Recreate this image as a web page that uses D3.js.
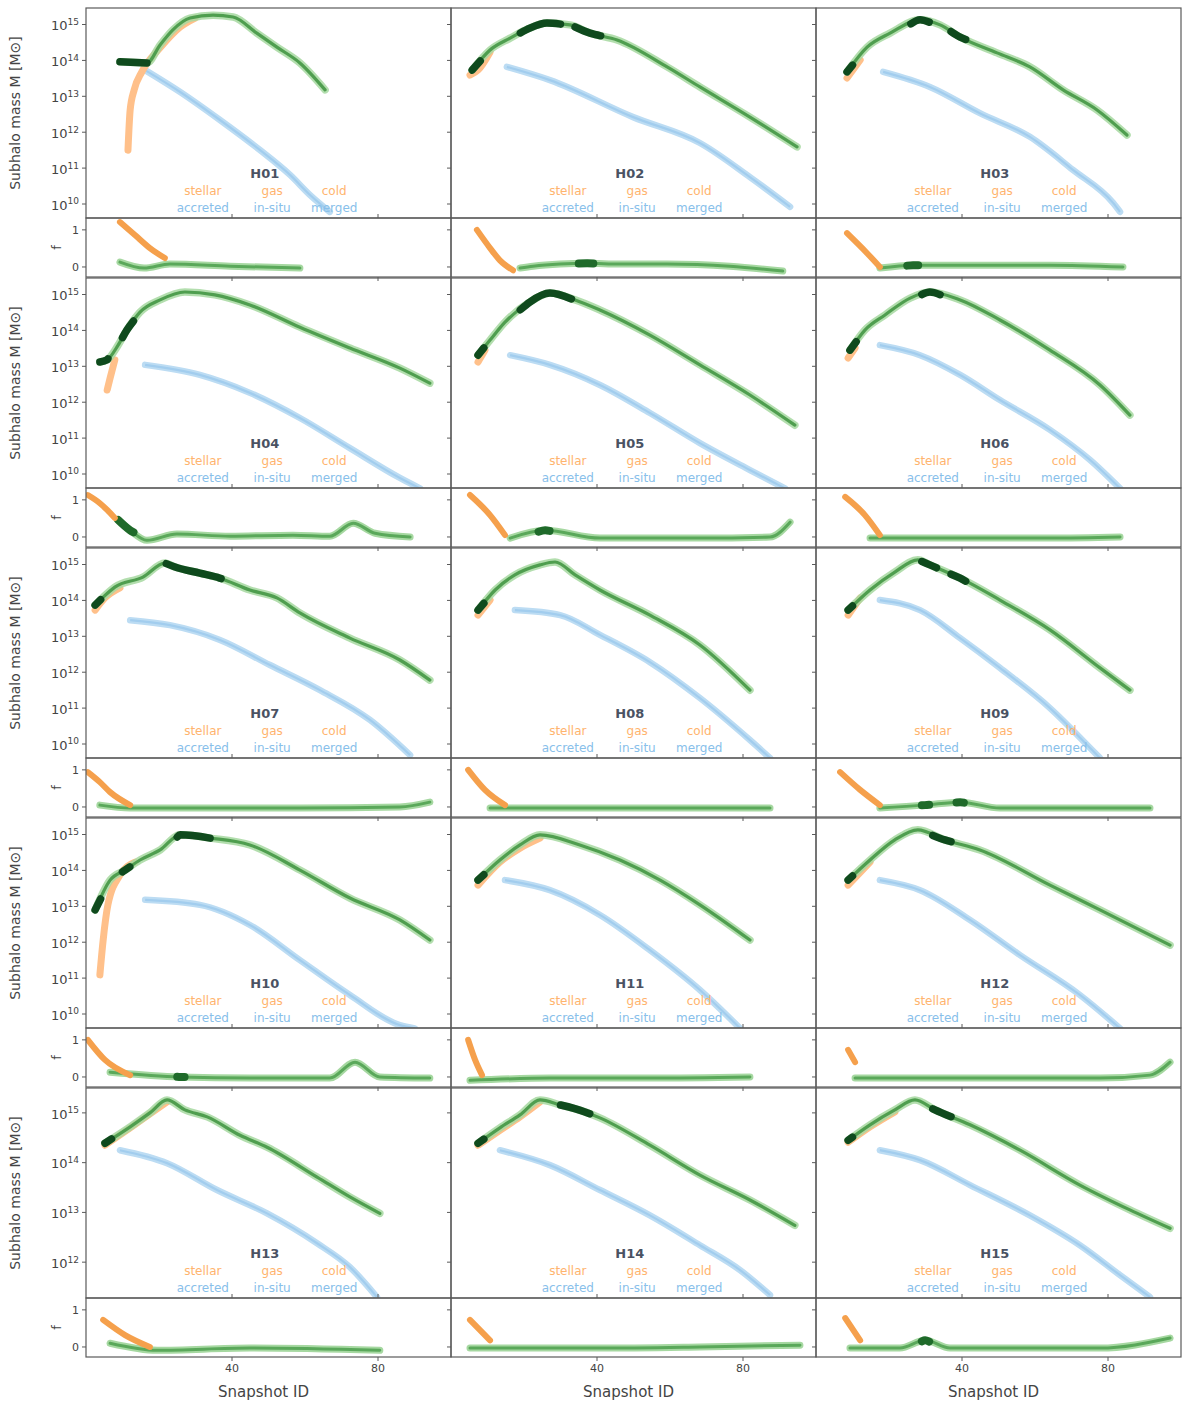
<!DOCTYPE html>
<html><head><meta charset="utf-8">
<script src="https://cdn.jsdelivr.net/npm/d3@7"></script>
<style>body{margin:0;background:#fff}svg{display:block}text{font-family:"DejaVu Sans",sans-serif}</style>
</head><body>
<svg id="c" width="1200" height="1416"></svg>
<script>
// ---------- data (x: snapshot, y: log10 mass, residual: fraction) ----------
const xDomain = [0, 100];
const xTicks = [40, 80];
const yTickRows = [[10,11,12,13,14,15],[10,11,12,13,14,15],[10,11,12,13,14,15],[10,11,12,13,14,15],[12,13,14,15]];
const yDomainRows = [[9.61,15.46],[9.61,15.46],[9.61,15.46],[9.61,15.46],[11.28,15.5]];
const resDomain = [-0.27, 1.32];
const resTicks = [0, 1];

const greenX = [
 [9.3,16.7,20.3,23.8,28.5,34.8,40.3,46.8,52.3,58.6,65.5],
 [5.8,10.7,16.2,21.6,26.3,32.6,38.1,45.5,59.2,68.2,81.9,94.8],
 [8.5,14.0,20.3,28.5,34.0,39.5,49.6,58.6,67.7,77.0,85.2],
 [3.8,5.8,8.8,11.2,14.8,20.3,27.1,35.3,44.9,58.6,72.3,86.0,94.2],
 [7.4,10.7,14.8,21.6,27.1,34.0,40.8,54.5,68.2,81.9,94.2],
 [9.3,13.4,18.9,25.8,31.2,39.5,50.4,64.1,77.8,86.0],
 [2.5,4.7,7.9,15.6,21.6,24.4,31.2,36.7,44.9,52.3,58.6,72.3,86.0,94.2],
 [7.4,12.1,17.5,24.4,28.5,34.0,40.8,54.5,68.2,81.9],
 [8.8,14.8,21.6,27.9,31.2,39.5,50.4,64.1,77.8,86.0],
 [2.5,6.6,10.7,14.8,20.3,25.8,34.0,44.9,58.6,72.3,86.0,94.2],
 [7.4,13.4,18.9,24.4,35.3,46.3,57.3,68.2,81.9],
 [8.8,14.8,21.6,27.9,35.3,44.9,64.1,77.8,97.0],
 [5.2,12.1,17.5,22.2,27.1,33.2,42.2,49.6,63.3,72.3,80.5],
 [7.4,13.4,18.9,24.4,29.9,36.7,40.8,54.5,68.2,81.9,94.2],
 [8.8,14.8,21.6,27.1,32.6,42.2,55.9,72.3,86.0,97.0]
];
const greenY = [
 [13.96,13.93,14.43,14.85,15.18,15.26,15.21,14.76,14.37,13.93,13.18],
 [13.73,14.29,14.62,14.90,15.04,14.99,14.76,14.57,13.82,13.26,12.42,11.59],
 [13.68,14.37,14.76,15.13,14.99,14.65,14.21,13.82,13.18,12.62,11.92],
 [13.12,13.18,13.59,14.01,14.51,14.85,15.07,14.99,14.71,14.09,13.51,12.95,12.53],
 [13.31,13.73,14.23,14.79,15.04,14.85,14.57,13.87,13.04,12.20,11.36],
 [13.45,14.01,14.43,14.90,15.07,14.85,14.29,13.45,12.48,11.64],
 [13.87,14.09,14.37,14.65,15.04,14.93,14.76,14.62,14.29,14.07,13.65,12.95,12.34,11.78],
 [13.73,14.29,14.71,14.99,15.07,14.71,14.29,13.59,12.76,11.50],
 [13.73,14.29,14.79,15.13,14.99,14.62,14.01,13.18,12.12,11.50],
 [12.90,13.73,14.01,14.29,14.57,14.99,14.90,14.71,14.01,13.23,12.62,12.06],
 [13.73,14.29,14.71,14.99,14.71,14.29,13.73,13.04,12.06],
 [13.73,14.29,14.85,15.13,14.85,14.57,13.59,12.90,11.92],
 [14.39,14.72,15.0,15.26,15.06,14.92,14.55,14.31,13.71,13.31,12.98],
 [14.39,14.70,14.96,15.26,15.16,15.02,14.90,14.35,13.75,13.25,12.74],
 [14.45,14.76,15.06,15.26,15.06,14.76,14.25,13.55,13.05,12.68]
];
const darkRanges = [
 [[9.3,16.7]], [[5.8,8],[19,30],[34,41]], [[8.5,10],[26,31],[37,41]],
 [[3.8,6],[10,13]], [[7.4,9],[19,33]], [[9.3,11],[29,34]],
 [[2.5,4],[22,37]], [[7.4,9]], [[8.8,10],[29,33],[37,41]],
 [[2.5,4],[10,12],[25,34]], [[7.4,9]], [[8.8,10],[32,37]],
 [[5.2,7]], [[7.4,9],[30,38]], [[8.8,10],[32,37]]
];
const blueX = [
 [16.2,25.8,36.7,47.7,55.9,61.4,66.8],
 [15.3,27.1,49.9,68.2,81.9,92.9],
 [18.4,31.2,44.9,58.6,70.4,81.4,83.3],
 [16.2,31.2,44.9,58.6,72.3,86.0,91.5],
 [16.2,27.1,40.8,54.5,68.2,81.9,91.5],
 [17.5,28.5,39.5,50.4,64.1,75.1,83.3],
 [12.1,23.0,36.7,50.4,64.1,77.8,88.8],
 [17.5,29.9,40.8,54.5,68.2,81.9,87.4],
 [17.5,28.5,39.5,50.4,64.1,75.1,77.8],
 [16.2,31.2,44.9,58.6,72.3,86.0,90.1],
 [14.8,27.1,40.8,54.5,68.2,79.2],
 [17.5,28.5,42.2,55.9,72.3,83.3],
 [9.3,22.2,35.9,49.6,63.3,72.3,79.7],
 [13.4,27.1,40.8,54.5,68.2,79.2,87.4],
 [17.5,28.5,42.2,58.6,72.3,83.3,91.5]
];
const blueY = [
 [13.73,13.12,12.34,11.50,10.81,10.25,9.78],
 [13.82,13.45,12.42,11.70,10.75,9.92],
 [13.68,13.26,12.53,11.87,10.95,10.03,9.78],
 [13.04,12.76,12.26,11.56,10.72,9.89,9.6],
 [13.31,13.04,12.48,11.70,10.86,10.11,9.6],
 [13.59,13.31,12.76,12.06,11.23,10.39,9.6],
 [13.45,13.31,12.90,12.20,11.50,10.67,9.69],
 [13.73,13.59,13.04,12.28,11.28,10.11,9.61],
 [14.01,13.73,12.95,12.12,11.00,9.89,9.61],
 [13.18,13.04,12.48,11.50,10.53,9.69,9.6],
 [13.73,13.45,12.76,11.78,10.67,9.6],
 [13.73,13.45,12.62,11.64,10.53,9.6],
 [14.25,13.99,13.45,12.98,12.38,11.90,11.30],
 [14.25,13.95,13.45,12.94,12.34,11.84,11.34],
 [14.25,14.05,13.55,12.94,12.34,11.74,11.3]
];
const orangeX = [
 [11.5,12.1,13.2,15.3,20.3,25.8,29.9],[5.2,7.4,10.7],[8.5,12.1],
 [5.8,6.6,7.9],[7.4,9.3],[8.8,10.7],
 [2.5,5.2,9.3],[7.4,10.7],[8.8,12.1],
 [3.8,4.7,6.0,9.3,13.4],[7.4,13.4,18.9,24.4],[8.8,14.8],
 [5.2,12.1,17.5,22.2],[7.4,13.4,18.9,24.4],[8.8,14.8,21.6]
];
const orangeY = [
 [11.50,12.62,13.18,13.68,14.35,14.93,15.18],[13.59,13.73,14.23],[13.51,14.01],
 [12.34,12.67,13.18],[13.12,13.45],[13.23,13.51],
 [13.73,14.07,14.35],[13.59,14.01],[13.59,14.07],
 [11.09,12.06,13.04,13.87,14.23],[13.59,14.23,14.62,14.90],[13.59,14.23],
 [14.35,14.70,14.98,15.22],[14.35,14.65,14.92,15.22],[14.41,14.72,15.02]
];
const resOrangeX = [
 [9.3,13.4,17.5,21.6],[7.1,10.7,13.4,17.0],[8.5,14.0,17.5],
 [0.5,3.8,5.8,7.9],[5.2,10.7,14.8],[8.0,13.4,17.5],
 [0.5,3.8,6.6,12.1],[4.7,9.3,14.8],[6.6,12.1,17.5],
 [0.5,5.2,12.1],[4.7,6.6,8.5],[8.8,10.7],
 [4.7,10.7,17.5],[5.2,10.7],[8.0,12.1]
];
const resOrangeY = [
 [1.21,0.86,0.51,0.24],[1.0,0.51,0.18,-0.09],[0.91,0.37,0.0],
 [1.13,0.91,0.73,0.51],[1.13,0.59,0.05],[1.08,0.59,0.05],
 [0.94,0.67,0.40,0.05],[1.0,0.46,0.05],[0.94,0.46,0.05],
 [1.0,0.46,0.05],[1.0,0.46,0.05],[0.73,0.40],
 [0.73,0.32,0.0],[0.73,0.18],[0.78,0.18]
];
const resGreenX = [
 [9.3,15.9,23.0,39.5,58.6],
 [18.9,22.5,29.9,37.3,46.3,59.2,76.4,90.9],
 [17.5,26.6,36.7,50.4,64.1,84.1],
 [8.8,12.1,16.7,24.9,39.5,56.7,66.8,73.2,79.2,88.8],
 [16.2,25.8,40.8,68.2,87.4,92.9],
 [14.8,36.7,64.1,83.3],
 [3.8,12.1,31.2,58.6,86.0,94.2],
 [10.7,40.8,68.2,87.4],
 [17.5,29.9,39.5,50.4,91.5],
 [6.6,25.8,44.9,66.8,73.7,80.5,94.2],
 [5.2,27.1,54.5,81.9],
 [10.7,36.7,77.8,91.5,97.0],
 [6.6,19.5,44.9,80.5],
 [5.2,40.8,68.2,95.6],
 [9.3,23.0,29.9,36.7,77.8,97.0]
];
const resGreenY = [
 [0.13,-0.03,0.08,0.02,-0.03],
 [-0.03,0.02,0.08,0.10,0.08,0.08,0.02,-0.11],
 [-0.03,0.05,0.05,0.05,0.05,0.0],
 [0.46,0.18,-0.09,0.08,0.02,0.05,0.02,0.37,0.10,0.0],
 [-0.03,0.18,-0.03,-0.03,0.0,0.40],
 [-0.03,-0.03,-0.03,0.0],
 [0.05,-0.03,-0.03,-0.03,0.0,0.13],
 [-0.03,-0.03,-0.03,-0.03],
 [-0.03,0.05,0.13,-0.03,-0.03],
 [0.13,0.0,-0.03,-0.03,0.40,0.0,-0.03],
 [-0.09,-0.03,-0.03,0.0],
 [-0.03,-0.03,-0.03,0.05,0.40],
 [0.10,-0.09,-0.03,-0.09],
 [-0.03,-0.03,0.0,0.05],
 [-0.03,-0.03,0.18,-0.03,-0.03,0.24]
];
const resDarkRanges = [
 [],[[35,39]],[[25,28]],
 [[8.8,13]],[[24,27]],[],
 [],[],[[29,31],[38.5,40.5]],
 [[25,27]],[],[],
 [],[],[[29,31]]
];
const legendTitles = ["H01","H02","H03","H04","H05","H06","H07","H08","H09","H10","H11","H12","H13","H14","H15"];
const orangeLabels = ["stellar","gas","cold"];
const blueLabels = ["accreted","in-situ","merged"];
const xLabel = "Snapshot ID";
const yLabel = "Subhalo mass M [M\u2299]";
const resLabel = "f";

// ---------- layout ----------
const svg = d3.select("#c");
const colLeft = [86, 451, 816], W = 365, top0 = 8, pitch = 270, mainH = 210, resH = 59;
const x = d3.scaleLinear().domain(xDomain).range([0, W]);
const defs = svg.append("defs");
const axisCol = "#5a5a5a", textCol = "#444";

// sub-path of a series between two x values (piecewise interpolation of the data)
function subSeries(xs, ys, a, b) {
  const f = d3.scaleLinear().domain(xs).range(ys).clamp(true);
  const lo = Math.max(a, xs[0]), hi = Math.min(b, xs[xs.length - 1]);
  const pts = [[lo, f(lo)]];
  xs.forEach((v, i) => { if (v > lo && v < hi) pts.push([v, ys[i]]); });
  pts.push([hi, f(hi)]);
  return pts;
}

for (let p = 0; p < 15; p++) {
  const r = Math.floor(p / 3), c = p % 3;
  const g = svg.append("g").attr("transform", `translate(${colLeft[c]},${top0 + r * pitch})`);
  const yM = d3.scaleLinear().domain(yDomainRows[r]).range([mainH, 0]);
  const yR = d3.scaleLinear().domain(resDomain).range([mainH + resH, mainH]);

  defs.append("clipPath").attr("id", `cm${p}`).append("rect").attr("x", 0).attr("y", 0).attr("width", W).attr("height", mainH);
  defs.append("clipPath").attr("id", `cr${p}`).append("rect").attr("x", 0).attr("y", mainH).attr("width", W).attr("height", resH);

  const lineM = d3.line().x(d => x(d[0])).y(d => yM(d[1])).curve(d3.curveMonotoneX);
  const lineR = d3.line().x(d => x(d[0])).y(d => yR(d[1])).curve(d3.curveMonotoneX);

  const gm = g.append("g").attr("clip-path", `url(#cm${p})`);
  // blue
  const bd = lineM(d3.zip(blueX[p], blueY[p]));
  gm.append("path").attr("d", bd).attr("fill", "none")
    .attr("stroke", "#bcdcf3").attr("stroke-width", 6.5).attr("stroke-linecap", "round").attr("stroke-linejoin", "round");
  gm.append("path").attr("d", bd).attr("fill", "none")
    .attr("stroke", "#a2cdee").attr("stroke-width", 2.2);
  // orange
  gm.append("path").attr("d", lineM(d3.zip(orangeX[p], orangeY[p]))).attr("fill", "none")
    .attr("stroke", "#ffc08a").attr("stroke-width", 7).attr("stroke-linecap", "round").attr("stroke-linejoin", "round");
  // green
  const gd = lineM(d3.zip(greenX[p], greenY[p]));
  gm.append("path").attr("d", gd).attr("fill", "none").attr("stroke", "#a6d8a0").attr("stroke-width", 7.5)
    .attr("stroke-opacity", 0.85).attr("stroke-linecap", "round").attr("stroke-linejoin", "round");
  gm.append("path").attr("d", gd).attr("fill", "none").attr("stroke", "#4f9e4f").attr("stroke-width", 3.2)
    .attr("stroke-linecap", "round");
  darkRanges[p].forEach(rg => {
    gm.append("path").attr("d", lineM(subSeries(greenX[p], greenY[p], rg[0], rg[1]))).attr("fill", "none")
      .attr("stroke", "#0f4a1d").attr("stroke-width", 7.5).attr("stroke-linecap", "round").attr("stroke-linejoin", "round");
  });

  // residual
  const gr = g.append("g").attr("clip-path", `url(#cr${p})`);
  const rgd = lineR(d3.zip(resGreenX[p], resGreenY[p]));
  gr.append("path").attr("d", rgd).attr("fill", "none").attr("stroke", "#a6d8a1").attr("stroke-width", 7).attr("stroke-linecap", "round");
  gr.append("path").attr("d", rgd).attr("fill", "none").attr("stroke", "#5aa85a").attr("stroke-width", 3).attr("stroke-linecap", "round");
  resDarkRanges[p].forEach(rg => {
    gr.append("path").attr("d", lineR(subSeries(resGreenX[p], resGreenY[p], rg[0], rg[1]))).attr("fill", "none")
      .attr("stroke", "#1f6a2a").attr("stroke-width", 8).attr("stroke-linecap", "round");
  });
  gr.append("path").attr("d", lineR(d3.zip(resOrangeX[p], resOrangeY[p]))).attr("fill", "none")
    .attr("stroke", "#f5a04c").attr("stroke-width", 6).attr("stroke-linecap", "round");

  // legend
  const lg = g.append("g").attr("font-size", 12);
  lg.append("text").attr("x", W * 0.49).attr("y", 170).attr("text-anchor", "middle").attr("fill", "#4a5263")
    .attr("font-size", 13).attr("font-weight", "bold").text(legendTitles[p]);
  const lx = [W * 0.32, W * 0.51, W * 0.68];
  orangeLabels.forEach((t, i) => lg.append("text").attr("x", lx[i]).attr("y", 187).attr("text-anchor", "middle")
    .attr("fill", "#ffb46e").text(t));
  blueLabels.forEach((t, i) => lg.append("text").attr("x", lx[i]).attr("y", 204).attr("text-anchor", "middle")
    .attr("fill", "#88c0ea").text(t));

  // spines
  g.append("rect").attr("x", 0).attr("y", 0).attr("width", W).attr("height", mainH).attr("fill", "none").attr("stroke", axisCol).attr("stroke-width", 1.2);
  g.append("rect").attr("x", 0).attr("y", mainH).attr("width", W).attr("height", resH).attr("fill", "none").attr("stroke", axisCol).attr("stroke-width", 1.2);

  // x ticks
  xTicks.forEach(t => {
    g.append("line").attr("x1", x(t)).attr("x2", x(t)).attr("y1", mainH).attr("y2", mainH - 4).attr("stroke", axisCol);
    g.append("line").attr("x1", x(t)).attr("x2", x(t)).attr("y1", mainH + resH).attr("y2", mainH + resH + 4).attr("stroke", axisCol);
    if (r === 4) g.append("text").attr("x", x(t)).attr("y", mainH + resH + 15).attr("text-anchor", "middle")
      .attr("font-size", 11).attr("fill", textCol).text(t);
  });
  if (r === 4) g.append("text").attr("x", W / 2 - 5).attr("y", mainH + resH + 40).attr("text-anchor", "middle")
    .attr("font-size", 15).attr("fill", textCol).text(xLabel);

  // y ticks main
  yTickRows[r].forEach(t => {
    g.append("line").attr("x1", 0).attr("x2", -4).attr("y1", yM(t)).attr("y2", yM(t)).attr("stroke", axisCol);
    if (c === 0) {
      const tx = g.append("text").attr("x", -7).attr("y", yM(t)).attr("dy", "0.45em").attr("text-anchor", "end")
        .attr("font-size", 13).attr("fill", textCol).text("10");
      tx.append("tspan").attr("dy", "-0.6em").attr("font-size", 9).text(t);
    }
  });
  resTicks.forEach(t => {
    g.append("line").attr("x1", 0).attr("x2", -4).attr("y1", yR(t)).attr("y2", yR(t)).attr("stroke", axisCol);
    if (c === 0) g.append("text").attr("x", -7).attr("y", yR(t)).attr("dy", "0.35em").attr("text-anchor", "end")
      .attr("font-size", 11).attr("fill", textCol).text(t);
  });
  if (c === 0) {
    g.append("text").attr("transform", `translate(${-66},${mainH / 2}) rotate(-90)`).attr("text-anchor", "middle")
      .attr("font-size", 14).attr("fill", textCol).text(yLabel);
    g.append("text").attr("transform", `translate(${-30},${mainH + resH / 2}) rotate(-90)`).attr("text-anchor", "middle")
      .attr("dy", "0.35em").attr("font-size", 13).attr("fill", textCol).text(resLabel);
  }
}
</script>
</body></html>
